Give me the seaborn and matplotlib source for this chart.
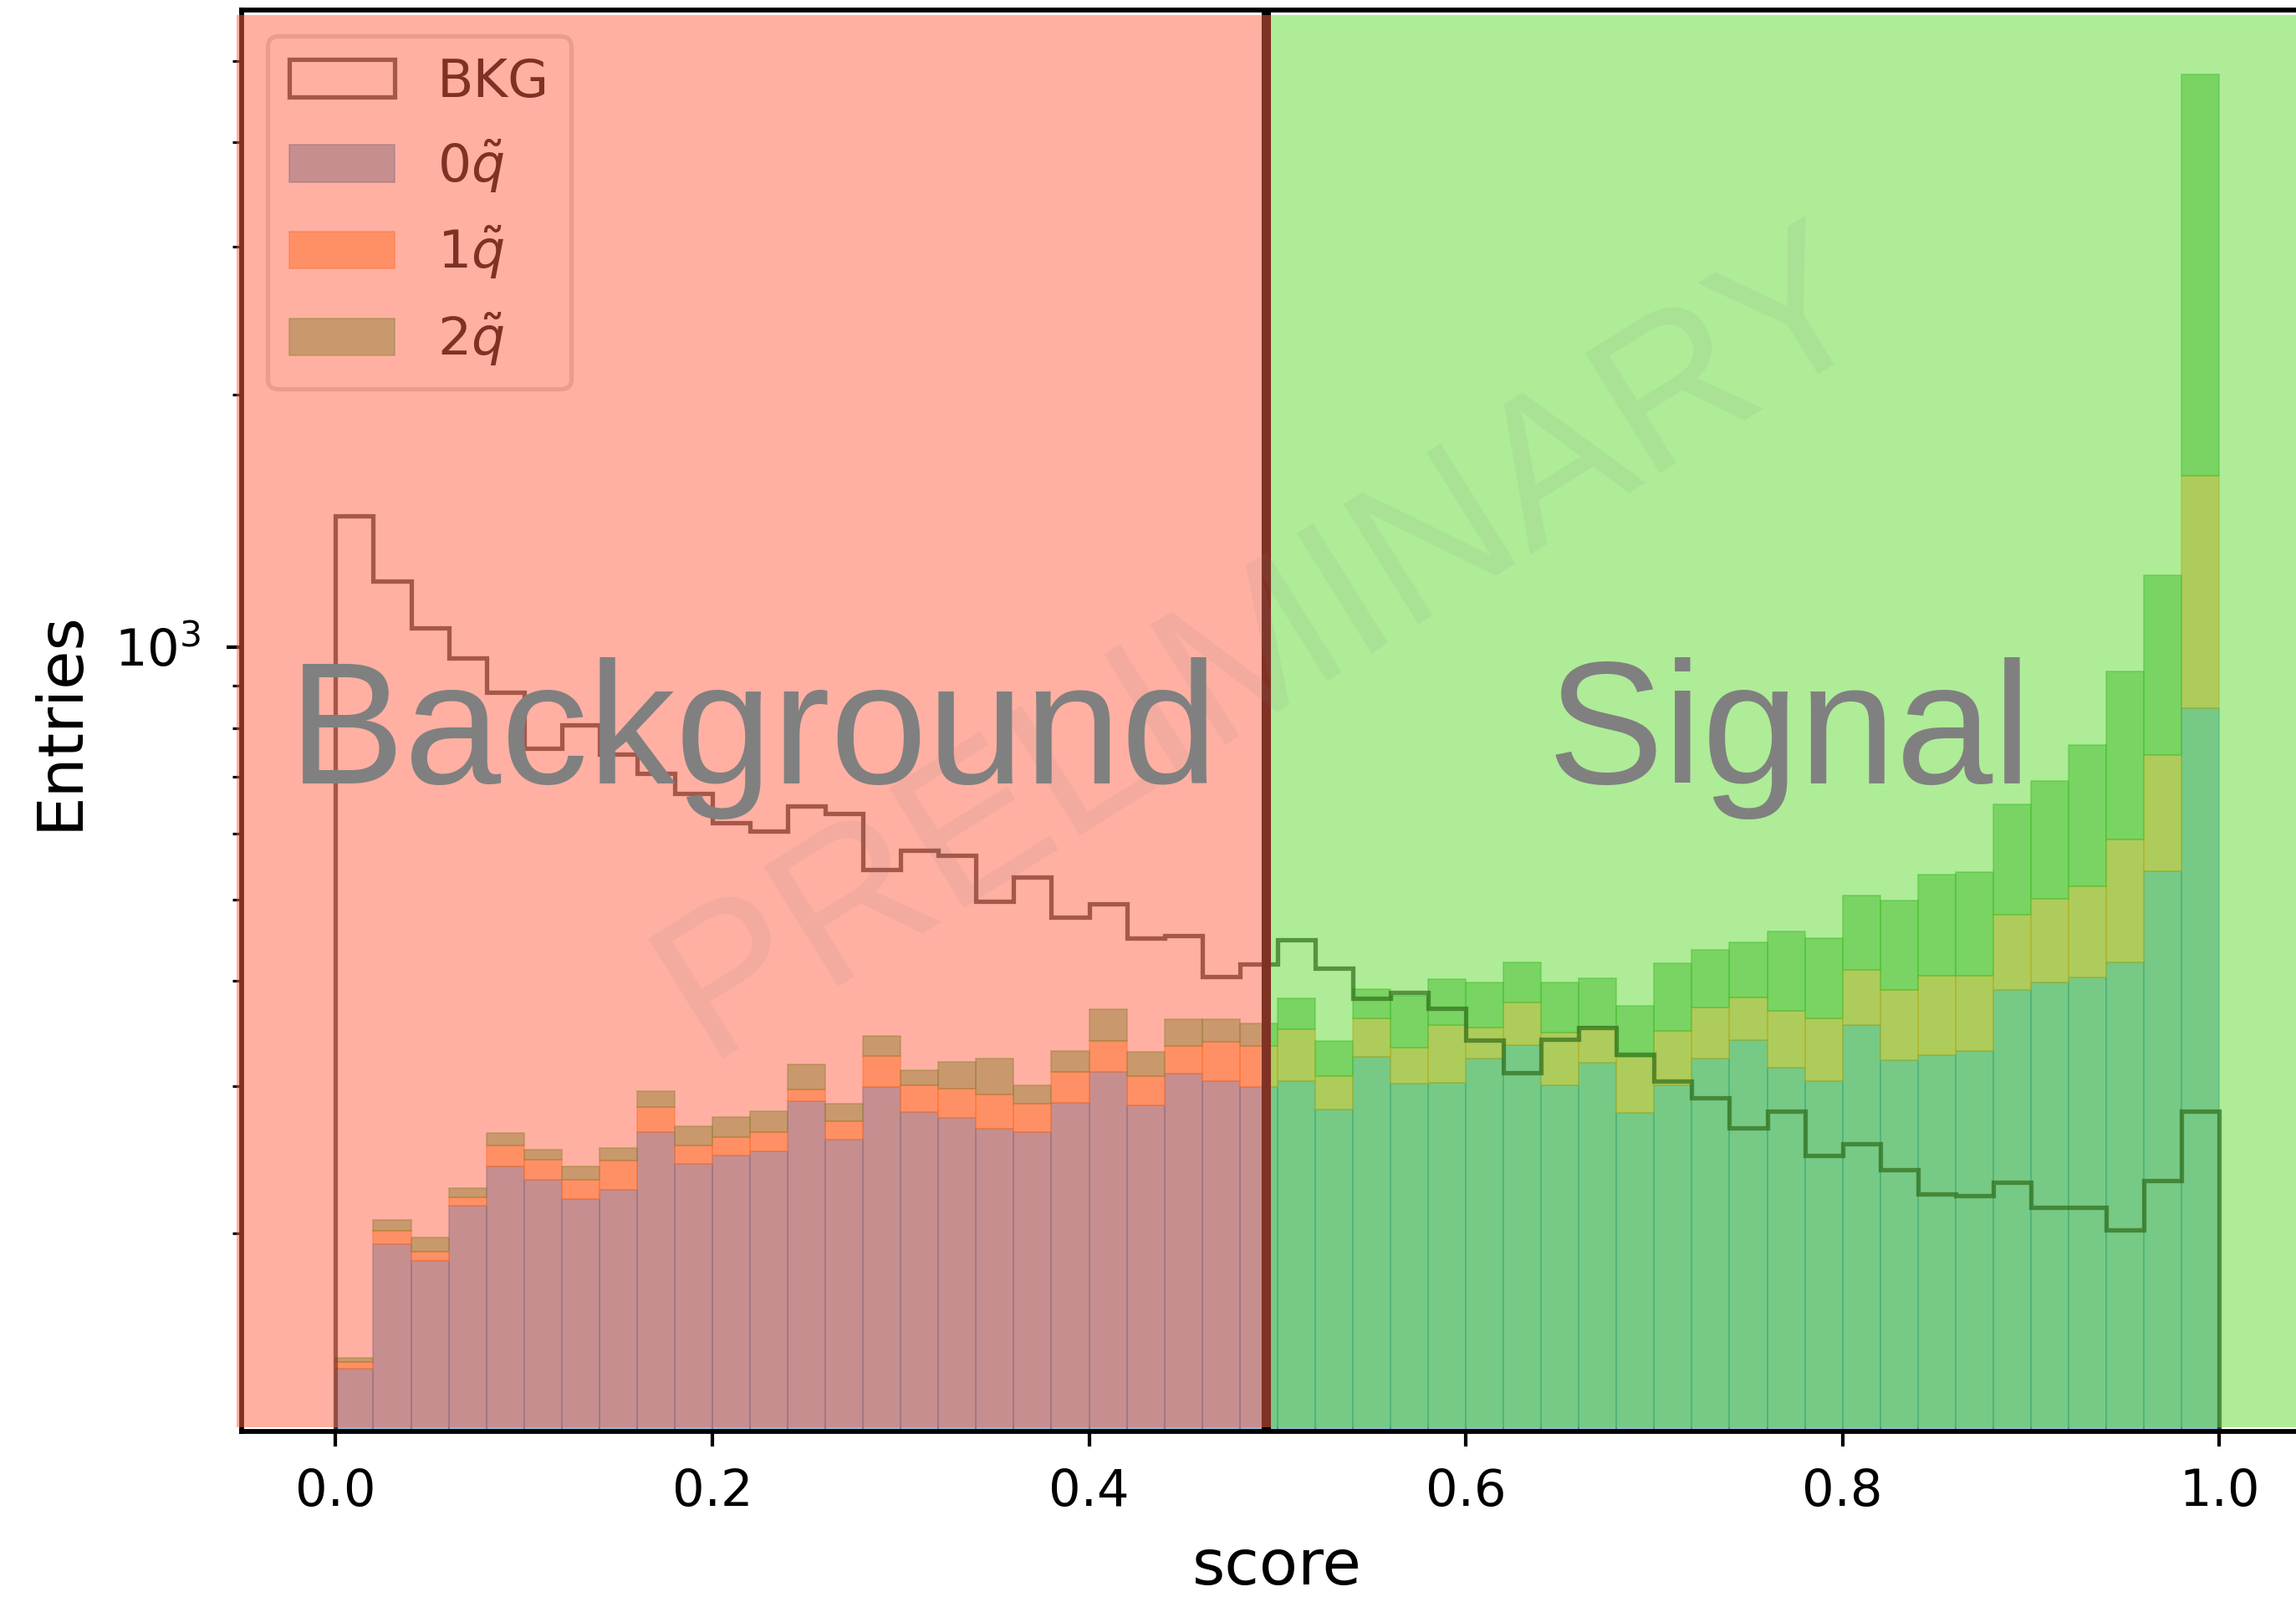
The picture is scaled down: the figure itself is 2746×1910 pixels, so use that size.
import numpy as np
import pandas as pd
import matplotlib
matplotlib.use("Agg")
import matplotlib.pyplot as plt
from matplotlib.patches import Patch
from matplotlib.colors import to_rgba
import seaborn as sns

# ---- binning -------------------------------------------------------------
bin_edges = np.linspace(0.0, 1.0, 51)
bin_centers = 0.5 * (bin_edges[:-1] + bin_edges[1:])

# ---- entries per score bin ----------------------------------------------
bkg_counts = [1435, 1200, 1055, 971, 884, 758, 807, 746, 707, 669,
              618, 603, 647, 634, 543, 573, 565, 498, 532, 477,
              494, 450, 453, 405, 419, 448, 414, 381, 388, 371,
              340, 311, 341, 352, 327, 304, 290, 267, 280, 248,
              256, 238, 223, 222, 230, 215, 215, 202, 231, 280]

sig_0q = [138.1, 194.4, 185.6, 215.7, 240.7, 231.7, 220.1, 225.3, 263.9, 242.3,
          247.7, 250.6, 287.4, 258.7, 298.7, 278.9, 274.8, 266.6, 264.4, 286.5,
          311.4, 284.4, 310.3, 304.1, 298.7, 304.1, 280.8, 324.7, 301.6, 302.6,
          323.6, 335.7, 300.2, 319.9, 278.5, 300.2, 323.6, 339.7, 315.5, 304.1,
          354.7, 322.1, 326.1, 329.9, 389.9, 398.4, 404.2, 421.0, 540.2, 846.4]

sig_1q = [2.3, 7.3, 4.7, 5.1, 13.7, 13.2, 11.6, 18.8, 18.8, 12.5,
          12.7, 13.3, 9.9, 13.3, 26.5, 21.3, 22.9, 26.2, 21.1, 25.4,
          27.8, 23.4, 24.3, 34.5, 35.9, 46.5, 27.0, 36.5, 31.8, 51.4,
          28.2, 41.7, 46.9, 33.0, 46.2, 48.6, 48.1, 42.8, 53.1, 56.5,
          57.6, 67.8, 80.1, 76.3, 90.0, 102.8, 114.3, 168.3, 202.8, 755.6]

sig_2q = [1.8, 5.9, 7.7, 5.6, 9.1, 6.6, 8.7, 8.6, 13.1, 13.6,
          14.9, 16.0, 21.1, 13.5, 18.4, 12.9, 22.8, 30.3, 14.7, 18.4,
          30.6, 21.3, 25.5, 21.4, 21.3, 30.5, 31.4, 29.6, 50.3, 48.1,
          47.0, 43.8, 51.7, 49.8, 49.0, 71.0, 63.8, 61.8, 90.0, 89.6,
          93.0, 108.8, 128.9, 132.7, 169.1, 191.7, 246.2, 345.4, 476.0, 3218.0]

class_labels = [r"$0\tilde{q}$", r"$1\tilde{q}$", r"$2\tilde{q}$"]
class_colors = ["C0", "C1", "C2"]

threshold = 0.494
x_range = (-0.05, 1.05)
y_range = (116.3, 5750)

# ---- long-form table for the stacked histogram ---------------------------
sig_df = pd.concat(
    [pd.DataFrame({"score": bin_centers, "entries": vals, "category": lab})
     for vals, lab in zip([sig_0q, sig_1q, sig_2q], class_labels)],
    ignore_index=True,
)
bins = bin_edges.tolist()

# ---- figure --------------------------------------------------------------
DPI = 380
W, H = 2746, 1910
fig = plt.figure(figsize=(W / DPI, H / DPI), dpi=DPI)
ax = fig.add_axes([288.8 / W, 1 - 1711.5 / H, 2478 / W, 1699.7 / H])

# seaborn stacks hue levels so that the last level sits at the bottom
sns.histplot(
    data=sig_df, x="score", weights="entries", hue="category",
    hue_order=class_labels[::-1],
    palette=dict(zip(class_labels, class_colors)),
    bins=bins, multiple="stack", element="bars",
    alpha=0.5, legend=False, ax=ax, zorder=1,
)
for patch in ax.patches:
    patch.set_edgecolor(patch.get_facecolor())
    patch.set_linewidth(0.3)

# background histogram as an outline dropping to the baseline at both ends
ax.stairs(bkg_counts, bin_edges, baseline=0, color="black", alpha=0.7,
          linewidth=1.0, zorder=2)

ax.set_yscale("log")
ax.set_xlim(*x_range)
ax.set_ylim(*y_range)

# score threshold
ax.axvline(threshold, color="black", linewidth=2.1, zorder=3)

# legend (sits below the region shading)
handles = [Patch(facecolor="none", edgecolor=(0, 0, 0, 0.7), linewidth=1.0, label="BKG")]
for lab, col in zip(class_labels, class_colors):
    handles.append(Patch(facecolor=to_rgba(col, 0.5), edgecolor=to_rgba(col, 0.5),
                         linewidth=0.3, label=lab))
leg = ax.legend(handles=handles, loc="upper left", fontsize=12, labelspacing=0.55)
leg.set_zorder(5)

# region shading
split = threshold + 0.0024
ax.axvspan(x_range[0] - 0.0027, split, ymin=0.0029, ymax=0.9964,
           color="#ff6347", alpha=0.5, linewidth=0, zorder=6, clip_on=False)
ax.axvspan(split, x_range[1], ymin=0.0029, ymax=0.9964,
           color="#5fda32", alpha=0.5, linewidth=0, zorder=6)

# region names and watermark
blend = ax.get_xaxis_transform()
ax.text((x_range[0] + threshold) / 2, 0.4556, "Background", transform=blend,
        ha="center", va="baseline", fontsize=39.5, color="gray",
        family="Liberation Sans", zorder=8)
ax.text((threshold + x_range[1]) / 2, 0.4556, "Signal", transform=blend,
        ha="center", va="baseline", fontsize=39.5, color="gray",
        family="Liberation Sans", zorder=8)
ax.text(0.508, 0.521, "PRELIMINARY", transform=ax.transAxes,
        ha="center", va="baseline", rotation=32, rotation_mode="anchor",
        fontsize=46.5, color="gray", alpha=0.1,
        family="Liberation Sans", zorder=7)

for side in ax.spines.values():
    side.set_linewidth(1.1)

ax.set_xlabel("score", fontsize=14.3, labelpad=4.6)
ax.set_ylabel("Entries", fontsize=14.3, labelpad=5.4)
ax.tick_params(axis="both", which="major", labelsize=11.5)
ax.tick_params(axis="x", which="major", pad=4.7)
ax.tick_params(axis="y", which="major", pad=5.7)

fig.savefig("out.png", dpi=DPI)
